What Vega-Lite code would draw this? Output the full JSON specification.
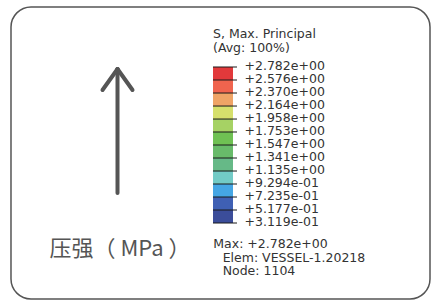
{
  "$schema": "https://vega.github.io/schema/vega-lite/v6.json",
  "width": 433,
  "height": 301,
  "autosize": {"type": "fit", "contains": "padding"},
  "padding": {"left": 11, "top": 7, "right": 3, "bottom": 2},
  "background": "white",
  "config": {
    "view": {"stroke": "#555555", "strokeWidth": 1.5, "cornerRadius": 20},
    "axis": {"disable": true}
  },
  "datasets": {
    "bands": [
      {"band": 1, "hi": 2.782, "lo": 2.576},
      {"band": 2, "hi": 2.576, "lo": 2.370},
      {"band": 3, "hi": 2.370, "lo": 2.164},
      {"band": 4, "hi": 2.164, "lo": 1.958},
      {"band": 5, "hi": 1.958, "lo": 1.753},
      {"band": 6, "hi": 1.753, "lo": 1.547},
      {"band": 7, "hi": 1.547, "lo": 1.341},
      {"band": 8, "hi": 1.341, "lo": 1.135},
      {"band": 9, "hi": 1.135, "lo": 0.9294},
      {"band": 10, "hi": 0.9294, "lo": 0.7235},
      {"band": 11, "hi": 0.7235, "lo": 0.5177},
      {"band": 12, "hi": 0.5177, "lo": 0.3119}
    ],
    "levels": [
      {"value": 2.782, "label": "+2.782e+00"},
      {"value": 2.576, "label": "+2.576e+00"},
      {"value": 2.370, "label": "+2.370e+00"},
      {"value": 2.164, "label": "+2.164e+00"},
      {"value": 1.958, "label": "+1.958e+00"},
      {"value": 1.753, "label": "+1.753e+00"},
      {"value": 1.547, "label": "+1.547e+00"},
      {"value": 1.341, "label": "+1.341e+00"},
      {"value": 1.135, "label": "+1.135e+00"},
      {"value": 0.9294, "label": "+9.294e-01"},
      {"value": 0.7235, "label": "+7.235e-01"},
      {"value": 0.5177, "label": "+5.177e-01"},
      {"value": 0.3119, "label": "+3.119e-01"}
    ],
    "one": [{}]
  },
  "layer": [
    {
      "data": {"name": "bands"},
      "mark": {"type": "rect"},
      "encoding": {
        "x": {"datum": 48.21, "type": "quantitative", "scale": {"domain": [0, 100], "nice": false, "zero": false}, "axis": null},
        "x2": {"datum": 52.98},
        "y": {"field": "hi", "type": "quantitative", "scale": {"domain": [-0.8914, 3.7321], "nice": false, "zero": false}, "axis": null},
        "y2": {"field": "lo"},
        "color": {
          "field": "band", "type": "ordinal", "legend": null,
          "scale": {
            "domain": [1, 2, 3, 4, 5, 6, 7, 8, 9, 10, 11, 12],
            "range": ["#e2393b", "#f0644e", "#efa466", "#d6e06c", "#a6d264", "#6fc153", "#68bb6a", "#66b987", "#72cbc6", "#45a6e4", "#3f60b4", "#3b4d9a"]
          }
        }
      }
    },
    {
      "data": {"name": "levels"},
      "mark": {"type": "rule", "color": "#1a1a1a", "strokeWidth": 1},
      "encoding": {
        "x": {"datum": 48.21, "type": "quantitative", "scale": {"domain": [0, 100], "nice": false, "zero": false}, "axis": null},
        "x2": {"datum": 53.94},
        "y": {"field": "value", "type": "quantitative", "scale": {"domain": [-0.8914, 3.7321], "nice": false, "zero": false}, "axis": null}
      }
    },
    {
      "data": {"name": "levels"},
      "mark": {"type": "text", "align": "left", "baseline": "middle", "dy": -1, "font": "DejaVu Sans", "fontSize": 12.5, "color": "#333333"},
      "encoding": {
        "x": {"datum": 55.73, "type": "quantitative", "scale": {"domain": [0, 100], "nice": false, "zero": false}, "axis": null},
        "y": {"field": "value", "type": "quantitative", "scale": {"domain": [-0.8914, 3.7321], "nice": false, "zero": false}, "axis": null},
        "text": {"field": "label"}
      }
    },
    {
      "data": {"name": "one"},
      "mark": {"type": "text", "align": "left", "baseline": "middle", "font": "DejaVu Sans", "fontSize": 12.5, "color": "#333333", "lineHeight": 14},
      "encoding": {
        "x": {"datum": 48.21, "type": "quantitative", "scale": {"domain": [0, 100], "nice": false, "zero": false}, "axis": null},
        "y": {"datum": 3.3046, "type": "quantitative", "scale": {"domain": [-0.8914, 3.7321], "nice": false, "zero": false}, "axis": null},
        "text": {"value": ["S, Max. Principal", "(Avg: 100%)"]}
      }
    },
    {
      "data": {"name": "one"},
      "mark": {"type": "text", "align": "left", "baseline": "middle", "font": "DejaVu Sans", "fontSize": 12.5, "color": "#333333"},
      "encoding": {
        "x": {"datum": 48.29, "type": "quantitative", "scale": {"domain": [0, 100], "nice": false, "zero": false}, "axis": null},
        "y": {"datum": -0.0206, "type": "quantitative", "scale": {"domain": [-0.8914, 3.7321], "nice": false, "zero": false}, "axis": null},
        "text": {"value": "Max: +2.782e+00"}
      }
    },
    {
      "data": {"name": "one"},
      "mark": {"type": "text", "align": "left", "baseline": "middle", "font": "DejaVu Sans", "fontSize": 12.5, "color": "#333333", "lineHeight": 13.5},
      "encoding": {
        "x": {"datum": 50.52, "type": "quantitative", "scale": {"domain": [0, 100], "nice": false, "zero": false}, "axis": null},
        "y": {"datum": -0.2422, "type": "quantitative", "scale": {"domain": [-0.8914, 3.7321], "nice": false, "zero": false}, "axis": null},
        "text": {"value": ["Elem: VESSEL-1.20218", "Node: 1104"]}
      }
    },
    {
      "data": {"name": "one"},
      "mark": {"type": "rule", "color": "#555555", "strokeWidth": 4, "strokeCap": "round"},
      "encoding": {
        "x": {"datum": 25.42, "type": "quantitative", "scale": {"domain": [0, 100], "nice": false, "zero": false}, "axis": null},
        "y": {"datum": 2.7504, "type": "quantitative", "scale": {"domain": [-0.8914, 3.7321], "nice": false, "zero": false}, "axis": null},
        "y2": {"datum": 0.787}
      }
    },
    {
      "data": {"name": "one"},
      "mark": {"type": "rule", "color": "#555555", "strokeWidth": 4, "strokeCap": "round"},
      "encoding": {
        "x": {"datum": 21.84, "type": "quantitative", "scale": {"domain": [0, 100], "nice": false, "zero": false}, "axis": null},
        "x2": {"datum": 25.42},
        "y": {"datum": 2.4179, "type": "quantitative", "scale": {"domain": [-0.8914, 3.7321], "nice": false, "zero": false}, "axis": null},
        "y2": {"datum": 2.7504}
      }
    },
    {
      "data": {"name": "one"},
      "mark": {"type": "rule", "color": "#555555", "strokeWidth": 4, "strokeCap": "round"},
      "encoding": {
        "x": {"datum": 29.0, "type": "quantitative", "scale": {"domain": [0, 100], "nice": false, "zero": false}, "axis": null},
        "x2": {"datum": 25.42},
        "y": {"datum": 2.4179, "type": "quantitative", "scale": {"domain": [-0.8914, 3.7321], "nice": false, "zero": false}, "axis": null},
        "y2": {"datum": 2.7504}
      }
    },
    {
      "data": {"name": "one"},
      "mark": {"type": "text", "align": "center", "baseline": "middle", "font": "Noto Sans CJK SC", "fontSize": 22, "color": "#555555"},
      "encoding": {
        "x": {"datum": 26.01, "type": "quantitative", "scale": {"domain": [0, 100], "nice": false, "zero": false}, "axis": null},
        "y": {"datum": -0.0997, "type": "quantitative", "scale": {"domain": [-0.8914, 3.7321], "nice": false, "zero": false}, "axis": null},
        "text": {"value": "压强（ MPa ）"}
      }
    }
  ]
}
